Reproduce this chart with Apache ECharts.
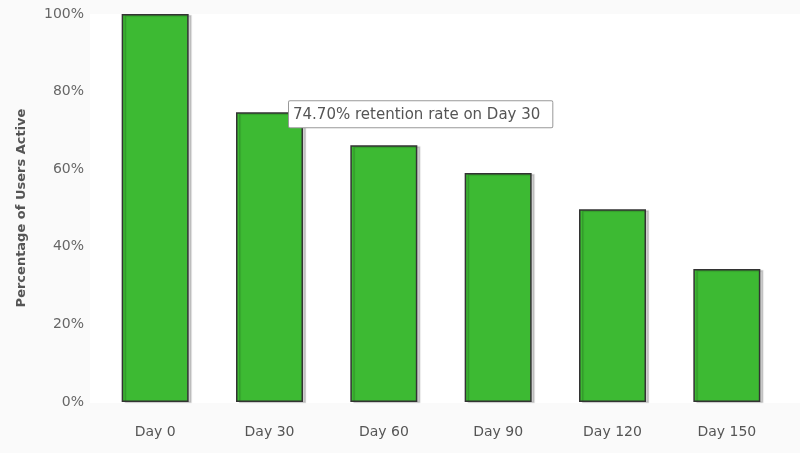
<!DOCTYPE html>
<html><head><meta charset="utf-8">
<script src="https://cdn.jsdelivr.net/npm/echarts@6/dist/echarts.min.js"></script>
<style>html,body{margin:0;padding:0;background:#fafafa}#c{width:800px;height:453px}</style>
</head><body><div id="c"></div>
<script>
const categories = ['Day 0','Day 30','Day 60','Day 90','Day 120','Day 150'];
const retention = [100, 74.7, 66.2, 59.0, 49.7, 34.3];
const yTicks = [0, 20, 40, 60, 80, 100];
const highlightIndex = 1;

const chart = echarts.init(document.getElementById('c'));
const font = 'DejaVu Sans, Verdana, sans-serif';
chart.setOption({
  backgroundColor: '#fafafa',
  animation: false,
  graphic: [{type:'rect', z:-10, shape:{x:90, y:14, width:710, height:389}, style:{fill:'#ffffff'}}],
  grid: {left: 98, right: 16, top: 14, bottom: 51},
  xAxis: {
    type: 'category', data: categories,
    axisLine: {show:false}, axisTick: {show:false},
    axisLabel: {color:'#555', fontFamily: font, fontSize: 14, margin: 23}
  },
  yAxis: {
    type: 'value', min: yTicks[0], max: yTicks[yTicks.length-1], interval: 20,
    name: 'Percentage of Users Active', nameLocation: 'middle', nameGap: 70, nameRotate: 90,
    nameTextStyle: {color:'#555', fontFamily: font, fontSize: 13, fontWeight: 'bold'},
    axisLine: {show:false}, axisTick: {show:false}, splitLine: {show:false},
    axisLabel: {color:'#666', fontFamily: font, fontSize: 14, margin: 14, formatter: '{value}%'}
  },
  series: [{
    type: 'bar', barWidth: 67,
    itemStyle: {color:'#3dba33', borderColor:'#333', borderWidth:1.5,
      shadowColor:'rgba(0,0,0,0.18)', shadowBlur:1, shadowOffsetX:3, shadowOffsetY:1},
    data: retention.map((v,i)=> i===highlightIndex ? {
      value: v,
      label: {show:true, position:[53,-11], align:'left', verticalAlign:'top',
        formatter: v.toFixed(2)+'% retention rate on '+categories[i],
        color:'#555', fontFamily: font, fontSize: 15,
        backgroundColor:'#fff', borderColor:'#999', borderWidth:1, borderRadius:1,
        padding:[6,12,5,4]}
    } : v)
  }]
});
</script></body></html>
